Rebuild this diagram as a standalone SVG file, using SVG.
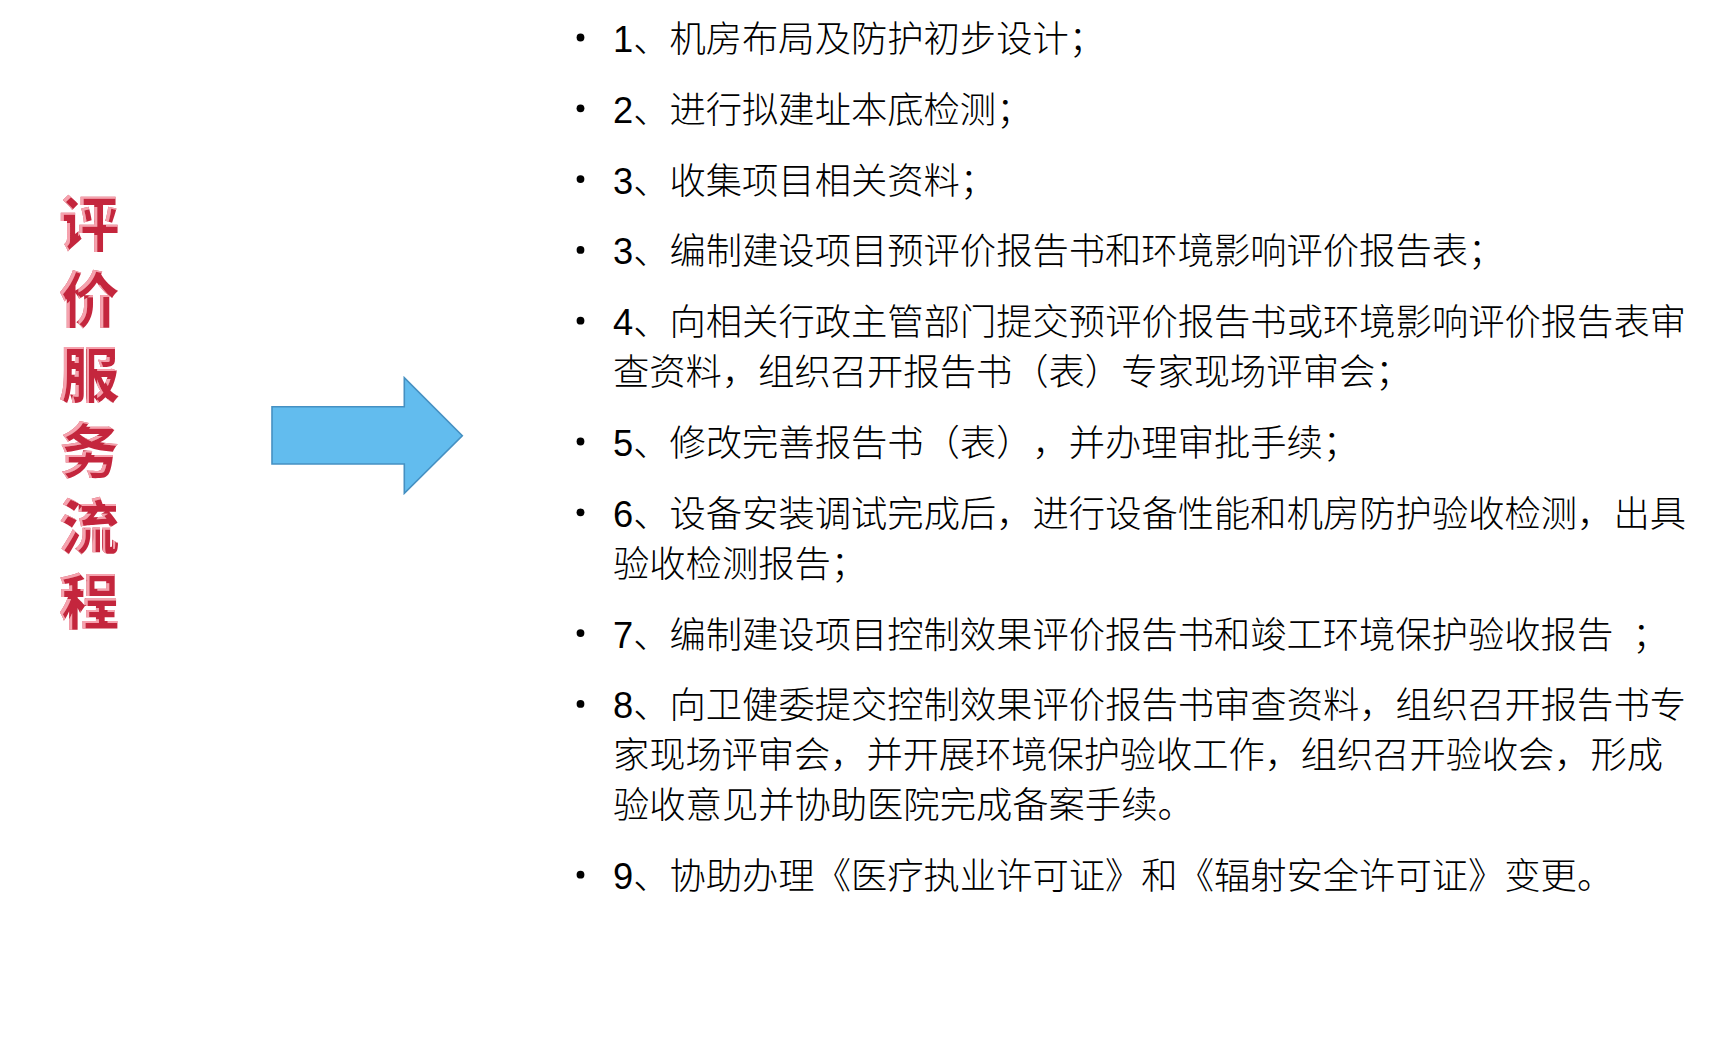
<svg xmlns="http://www.w3.org/2000/svg" width="1716" height="1041" viewBox="0 0 1716 1041">
<style>
.t{font-family:"Liberation Sans","Noto Sans CJK SC",sans-serif;font-size:36.3px;font-weight:300;fill:#000;text-spacing-trim:space-all}
.h{font-family:"Noto Sans CJK SC",sans-serif;font-size:60px;font-weight:900;fill:#c4273e;writing-mode:vertical-rl;letter-spacing:15.6px;filter:url(#emb)}
.b{fill:#000}
.arr{fill:#62bcee;stroke:#4590c2;stroke-width:1.6}
</style>
<defs>
<filter id="emb" x="-10%" y="-5%" width="120%" height="110%">
<feOffset in="SourceAlpha" dx="3" dy="2" result="o"/>
<feComposite in="SourceAlpha" in2="o" operator="out" result="edge"/>
<feFlood flood-color="#f6a2ae"/>
<feComposite in2="edge" operator="in" result="hl"/>
<feMerge><feMergeNode in="SourceGraphic"/><feMergeNode in="hl"/></feMerge>
</filter>
</defs>
<rect width="1716" height="1041" fill="#fff"/>
<g id="title">
<text class="h" x="89" y="193.5">评价服务流程</text>
</g>
<g id="connectors">
<g id="arrow">
<polygon class="arr" points="272,406.7 404.3,406.7 404.3,377.7 462.3,435.7 404.3,493.3 404.3,464 272,464"/>
</g>
</g>
<g id="item1"><circle class="b" cx="580.5" cy="37.5" r="3.9"/><text class="t" x="613" y="52">1、机房布局及防护初步设计；</text></g>
<g id="item2"><circle class="b" cx="580.5" cy="108.3" r="3.9"/><text class="t" x="613" y="122.8">2、进行拟建址本底检测；</text></g>
<g id="item3"><circle class="b" cx="580.5" cy="179.1" r="3.9"/><text class="t" x="613" y="193.6">3、收集项目相关资料；</text></g>
<g id="item4"><circle class="b" cx="580.5" cy="249.9" r="3.9"/><text class="t" x="613" y="264.4">3、编制建设项目预评价报告书和环境影响评价报告表；</text></g>
<g id="item5"><circle class="b" cx="580.5" cy="320.7" r="3.9"/>
<text class="t" x="613" y="335.2" textLength="1073" lengthAdjust="spacing">4、向相关行政主管部门提交预评价报告书或环境影响评价报告表审</text>
<text class="t" x="613" y="385.2">查资料，组织召开报告书（表）专家现场评审会；</text></g>
<g id="item6"><circle class="b" cx="580.5" cy="441.5" r="3.9"/><text class="t" x="613" y="456">5、修改完善报告书（表），并办理审批手续；</text></g>
<g id="item7"><circle class="b" cx="580.5" cy="512.3" r="3.9"/>
<text class="t" x="613" y="526.8" textLength="1073" lengthAdjust="spacing">6、设备安装调试完成后，进行设备性能和机房防护验收检测，出具</text>
<text class="t" x="613" y="576.8">验收检测报告；</text></g>
<g id="item8"><circle class="b" cx="580.5" cy="633.1" r="3.9"/><text class="t" x="613" y="647.6">7、编制建设项目控制效果评价报告书和竣工环境保护验收报告 <tspan dx="9">；</tspan></text></g>
<g id="item9"><circle class="b" cx="580.5" cy="703.9" r="3.9"/>
<text class="t" x="613" y="718.4" textLength="1073" lengthAdjust="spacing">8、向卫健委提交控制效果评价报告书审查资料，组织召开报告书专</text>
<text class="t" x="613" y="768.4" textLength="1050" lengthAdjust="spacing">家现场评审会，并开展环境保护验收工作，组织召开验收会，形成</text>
<text class="t" x="613" y="818.4">验收意见并协助医院完成备案手续。</text></g>
<g id="item10"><circle class="b" cx="580.5" cy="874.7" r="3.9"/><text class="t" x="613" y="889.2">9、协助办理《医疗执业许可证》和《辐射安全许可证》变更。</text></g>
</svg>
